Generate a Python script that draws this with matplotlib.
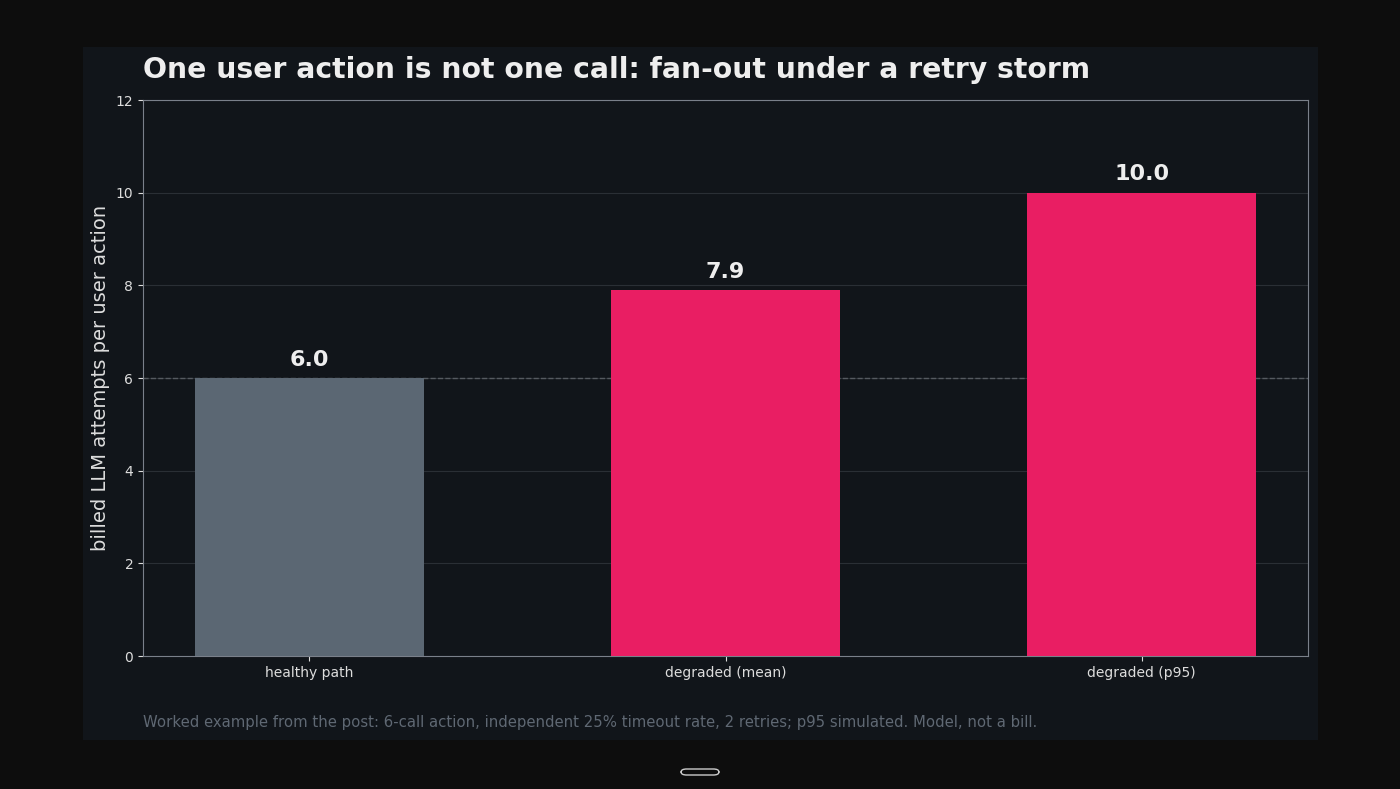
import matplotlib.pyplot as plt
from matplotlib.patches import Rectangle, FancyBboxPatch

categories = ['healthy path', 'degraded (mean)', 'degraded (p95)']
attempts = [6.0, 7.9, 10.0]
bar_colors = ['#5b6773', '#e91e63', '#e91e63']
baseline = 6

fig = plt.figure(figsize=(14, 7.89), dpi=100)
fig.patch.set_facecolor('#0d0d0d')

# inner card
fig.patches.append(Rectangle((83 / 1400, 1 - 740 / 789), (1318 - 83) / 1400, (740 - 47) / 789,
                             transform=fig.transFigure, facecolor='#11151a', edgecolor='none', zorder=-5))
# little pill below the card
fig.patches.append(FancyBboxPatch((681 / 1400, 1 - 775 / 789), 38 / 1400, 6 / 789,
                                  boxstyle='round,pad=0,rounding_size=0.004', transform=fig.transFigure,
                                  facecolor='none', edgecolor='#cccccc', linewidth=1, zorder=-5))

ax = fig.add_axes([143 / 1400, 1 - 656 / 789, (1308 - 143) / 1400, (656 - 100) / 789])
ax.set_zorder(1)
ax.set_facecolor('#11151a')

x = range(len(categories))
ax.bar(x, attempts, width=0.55, color=bar_colors, zorder=3)
for i, v in zip(x, attempts):
    ax.text(i, v + 0.18, f'{v:.1f}', ha='center', va='bottom', color='#eeeeee',
            fontsize=16, fontweight='bold', zorder=4)

ax.axhline(baseline, color='#555a60', linestyle='--', linewidth=1, zorder=2)
ax.set_xlim(-0.4, 2.4)
ax.set_ylim(0, 12)
ax.set_yticks(range(0, 13, 2))
ax.set_xticks(list(x))
ax.set_xticklabels(categories)
ax.tick_params(colors='#dddddd', labelsize=10)
ax.grid(axis='y', color='#2a2f35', linewidth=0.8, zorder=0)
for s in ax.spines.values():
    s.set_color('#7a808a')
ax.set_ylabel('billed LLM attempts per user action', color='#dddddd', fontsize=14)

fig.text(143 / 1400, 1 - 70 / 789, 'One user action is not one call: fan-out under a retry storm',
         color='#eeeeee', fontsize=20.3, fontweight='bold', va='center', ha='left')
fig.text(143 / 1400, 1 - 722 / 789,
         'Worked example from the post: 6-call action, independent 25% timeout rate, 2 retries; p95 simulated. Model, not a bill.',
         color='#5f6873', fontsize=10.7, va='center', ha='left')

fig.savefig('out.png', dpi=100, facecolor=fig.get_facecolor())
